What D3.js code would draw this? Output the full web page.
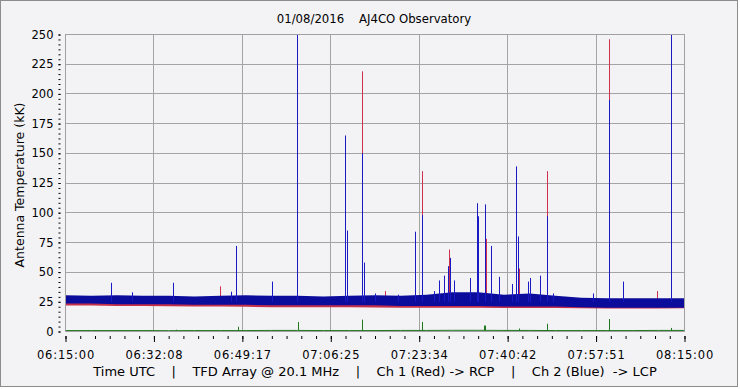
<!DOCTYPE html>
<html>
<head>
<meta charset="utf-8">
<script src="https://cdnjs.cloudflare.com/ajax/libs/d3/7.8.5/d3.min.js"></script>
<style>
  body { margin: 0; background: #ffffff; }
  svg text { font-family: "DejaVu Sans", Verdana, sans-serif; fill: #000; }
</style>
</head>
<body>
<script>
// x axis tick labels (06:15:00 -> 08:15:00, 7 equal steps)
const xTickLabels = ["06:15:00", "06:32:08", "06:49:17", "07:06:25", "07:23:34", "07:40:42", "07:57:51", "08:15:00"];
const yTicks = [0, 25, 50, 75, 100, 125, 150, 175, 200, 225, 250];

// noise band envelopes, read every 5 minutes after 06:15:00 (kK)
const bandTime = [0, 5, 10, 15, 20, 25, 30, 35, 40, 45, 50, 55, 60, 65, 70, 75, 80, 85, 90, 95, 100, 105, 110, 115, 120];
const blueHigh = [30.5, 30, 30.5, 30, 30, 29.5, 30, 30.5, 30, 30, 29.5, 30, 30.5, 30, 31, 33, 33, 31, 32, 30, 28.5, 28, 28, 28, 28];
const blueLow  = [23.5, 23.5, 23, 23, 23, 22.5, 22.5, 22.5, 22, 22, 22, 22, 22, 21.5, 21.5, 21.5, 21.5, 21, 21, 21, 20.5, 20, 20, 20, 20];
const redHigh  = [27, 27, 27, 27, 27, 26.5, 26.5, 26.5, 26, 26, 26, 26, 26, 25.5, 25.5, 25.5, 25.5, 25, 25, 25, 24.5, 24, 24, 24, 24];
const redLow   = [21.8, 21.8, 21.5, 21.5, 21.3, 21, 21, 20.8, 20.5, 20.5, 20.5, 20.5, 20.3, 20, 20, 20, 20, 19.8, 19.8, 19.8, 19.5, 19.3, 19.3, 19.3, 19.5];
const greenBase = [0.8, 0.8, 0.8, 0.8, 0.7, 0.8, 0.8, 0.8, 0.9, 0.9, 0.8, 0.8, 0.8, 0.9, 0.9, 1.0, 1.0, 0.9, 0.9, 0.8, 0.8, 0.8, 0.8, 0.9, 0.9];

// spikes: [minutes after 06:15:00, peak kK]
const blueSpikes = [
  [8.9, 41], [13, 33], [21, 41], [32.2, 33.5], [33.2, 72], [40.2, 42], [45.0, 260],
  [54.2, 165], [54.6, 85], [57.5, 150], [57.9, 58], [60, 32], [64.5, 31], [67.8, 84],
  [69.3, 98], [71.6, 34], [72.6, 43], [73.5, 47], [74.3, 55], [74.7, 62], [75.5, 43],
  [78.6, 45], [79.8, 108], [80.1, 97], [81.5, 107], [82.5, 72], [84.2, 46], [86.6, 40],
  [87.5, 139], [87.8, 80], [89.7, 42], [90.1, 45], [92.0, 47], [93.4, 97], [94.7, 32],
  [102.3, 32], [105.4, 195], [108.1, 42], [117.4, 260]
];
const redSpikes = [
  [30.0, 38], [57.5, 219], [62.0, 34], [69.3, 135], [74.5, 69], [81.6, 78],
  [88.1, 53], [93.4, 135], [105.4, 246], [114.7, 34]
];
const greenSpikes = [
  [21.6, 1.5], [33.5, 4], [45.1, 8], [57.5, 10], [69.3, 8], [81.2, 5], [81.5, 5],
  [88.1, 2.5], [93.4, 6.5], [105.4, 10.5], [117.4, 3]
];

const w = 740;
const h = 389;
const pLeft = 65.5, pRight = 684.5, pTop = 34.5, pBottom = 331.5;

const xScale = d3.scaleLinear().domain([0, 120]).range([pLeft, pRight]);
const yScale = d3.scaleLinear().domain([0, 250]).range([pBottom, pTop]);
const crisp = v => Math.round(v - 0.5) + 0.5;

const svg = d3.select("body").append("svg")
  .attr("width", w)
  .attr("height", h);

// window frame
svg.append("rect")
  .attr("x", 0.5).attr("y", 0.5)
  .attr("width", 737).attr("height", 386)
  .attr("fill", "#f3f3f6")
  .attr("stroke", "#8c8c8c");

// title
svg.append("text")
  .attr("x", 374).attr("y", 23)
  .attr("text-anchor", "middle")
  .style("font-family", "'Liberation Sans Narrow', 'DejaVu Sans Condensed', sans-serif")
  .style("font-stretch", "condensed")
  .style("font-size", "13px")
  .style("white-space", "pre")
  .text("01/08/2016    AJ4CO Observatory");

const xMajor = d3.range(8).map(i => i * 120 / 7);
const xMinor = d3.range(43).map(i => i * 120 / 42);
const yMinor = d3.range(61).map(i => i * 250 / 60);

// grid
svg.append("g").selectAll("line")
  .data(yTicks.slice(1, -1))
  .enter().append("line")
  .attr("x1", pLeft).attr("x2", pRight)
  .attr("y1", d => crisp(yScale(d))).attr("y2", d => crisp(yScale(d)))
  .attr("stroke", "#a4a4a4");

svg.append("g").selectAll("line")
  .data(xMajor.slice(1, -1))
  .enter().append("line")
  .attr("x1", d => crisp(xScale(d))).attr("x2", d => crisp(xScale(d)))
  .attr("y1", pTop).attr("y2", pBottom)
  .attr("stroke", "#a4a4a4");

// clip for the traces
svg.append("clipPath").attr("id", "plotclip")
  .append("rect")
  .attr("x", pLeft).attr("y", pTop)
  .attr("width", pRight - pLeft).attr("height", pBottom - pTop);

const plot = svg.append("g").attr("clip-path", "url(#plotclip)");

const band = (hi, lo) => d3.area()
  .x((d, i) => xScale(bandTime[i]))
  .y0((d, i) => yScale(lo[i]))
  .y1((d, i) => yScale(hi[i]));

// red channel
plot.append("path")
  .datum(bandTime)
  .attr("d", band(redHigh, redLow))
  .attr("fill", "#c4304a");

plot.append("g").selectAll("line")
  .data(redSpikes)
  .enter().append("line")
  .attr("x1", d => crisp(xScale(d[0]))).attr("x2", d => crisp(xScale(d[0])))
  .attr("y1", yScale(22)).attr("y2", d => yScale(d[1]))
  .attr("stroke", "#d0304c");

// blue channel
plot.append("path")
  .datum(bandTime)
  .attr("d", band(blueHigh, blueLow))
  .attr("fill", "#0c0c9c");

plot.append("g").selectAll("line")
  .data(blueSpikes)
  .enter().append("line")
  .attr("x1", d => crisp(xScale(d[0]))).attr("x2", d => crisp(xScale(d[0])))
  .attr("y1", yScale(25)).attr("y2", d => yScale(d[1]))
  .attr("stroke", "#1a1ac4");

// green channel
plot.append("path")
  .datum(bandTime)
  .attr("d", d3.line().x((d, i) => xScale(bandTime[i])).y((d, i) => yScale(greenBase[i])))
  .attr("fill", "none")
  .attr("stroke", "#1f7a1f");

plot.append("g").selectAll("line")
  .data(greenSpikes)
  .enter().append("line")
  .attr("x1", d => crisp(xScale(d[0]))).attr("x2", d => crisp(xScale(d[0])))
  .attr("y1", yScale(0.8)).attr("y2", d => yScale(d[1]))
  .attr("stroke", "#1f7a1f");

// plot border
svg.append("rect")
  .attr("x", pLeft).attr("y", pTop)
  .attr("width", pRight - pLeft).attr("height", pBottom - pTop)
  .attr("fill", "none")
  .attr("stroke", "#a0a0a0");

// x axis: ticks hang a little below the frame
const xAxis = d3.axisBottom(xScale)
  .tickValues(xMajor)
  .tickSize(6)
  .tickPadding(9)
  .tickFormat((d, i) => xTickLabels[i]);

const xg = svg.append("g")
  .attr("transform", "translate(0," + (pBottom + 4.5) + ")")
  .call(xAxis);
xg.select(".domain").remove();
xg.selectAll("text").style("font-size", "11.5px").style("letter-spacing", "0.8px").attr("fill", "#000");

const xg2 = svg.append("g")
  .attr("transform", "translate(0," + (pBottom + 4.5) + ")")
  .call(d3.axisBottom(xScale).tickValues(xMinor).tickSize(3).tickFormat(""));
xg2.select(".domain").remove();

// y axis: small dotted ticks left of the frame
const yAxis = d3.axisLeft(yScale)
  .tickValues(yTicks)
  .tickSize(2)
  .tickPadding(5);

const yg = svg.append("g")
  .attr("transform", "translate(" + (pLeft - 5) + ",0)")
  .call(yAxis);
yg.select(".domain").remove();
yg.selectAll("text").style("font-size", "11.5px").attr("fill", "#000");

const yg2 = svg.append("g")
  .attr("transform", "translate(" + (pLeft - 5) + ",0)")
  .call(d3.axisLeft(yScale).tickValues(yMinor).tickSize(2).tickFormat(""));
yg2.select(".domain").remove();

// y label
svg.append("text")
  .attr("transform", "rotate(-90)")
  .attr("x", -185).attr("y", 24)
  .attr("text-anchor", "middle")
  .style("font-size", "12.5px")
  .text("Antenna Temperature (kK)");

// footer
svg.append("text")
  .attr("x", 375).attr("y", 376)
  .attr("text-anchor", "middle")
  .style("font-size", "13px")
  .style("white-space", "pre")
  .text("Time UTC    |    TFD Array @ 20.1 MHz    |    Ch 1 (Red) -> RCP    |    Ch 2 (Blue)  -> LCP");
</script>
</body>
</html>
